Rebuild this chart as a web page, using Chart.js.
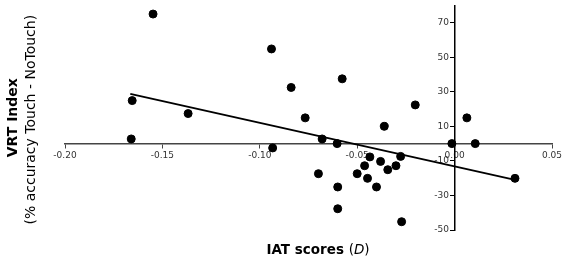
<!DOCTYPE html>
<html>
<head>
<meta charset="utf-8">
<script src="https://cdn.jsdelivr.net/npm/chart.js@4.4.1/dist/chart.umd.min.js"></script>
<style>
  html, body { margin: 0; padding: 0; background: #fff; }
  #wrap { width: 567px; height: 263px; }
</style>
</head>
<body>
<div id="wrap"><canvas id="c"></canvas></div>
<script>
// IAT D score vs VRT index, one point per participant
const iatScores = [-0.1548, -0.0940, -0.1655, -0.1368, -0.1660, -0.0934, -0.0839, -0.0577,
  -0.0767, -0.0202, -0.0361, 0.0063, -0.0680, -0.0603, -0.0014, 0.0106, -0.0435, -0.0277,
  -0.0462, -0.0380, -0.0301, -0.0343, -0.0699, -0.0500, -0.0447, -0.0401, -0.0600, -0.0600,
  -0.0272, 0.0310];
const vrtIndex = [75.0, 54.8, 24.9, 17.4, 2.7, -2.5, 32.5, 37.5,
  14.9, 22.4, 10.0, 14.9, 2.7, 0, 0, 0, -7.7, -7.4,
  -12.8, -10.3, -12.8, -15.1, -17.4, -17.4, -20.1, -25.1, -25.1, -37.7,
  -45.2, -20.1];

// regression line, endpoints at the extreme D values
const fitX = [-0.1665, 0.031];
const fitY = [28.8, -21.0];

const xTicks = [-0.20, -0.15, -0.10, -0.05, 0.00, 0.05];
const yTicks = [-50, -30, -10, 10, 30, 50, 70];

const FONT = '"DejaVu Sans", Verdana, sans-serif';

// axis titles sit outside the chart area, drawn by hand
const titlesPlugin = {
  id: 'titles',
  afterDraw(chart) {
    const { ctx, chartArea } = chart;
    const cy = (chartArea.top + chartArea.bottom) / 2;
    ctx.save();
    ctx.fillStyle = '#000';
    ctx.textAlign = 'center';
    ctx.textBaseline = 'middle';
    ctx.translate(13, cy);
    ctx.rotate(-Math.PI / 2);
    ctx.font = 'bold 14px ' + FONT;
    ctx.fillText('VRT Index', 0, 0);
    ctx.restore();

    ctx.save();
    ctx.fillStyle = '#000';
    ctx.textAlign = 'center';
    ctx.textBaseline = 'middle';
    ctx.translate(31, cy + 2);
    ctx.rotate(-Math.PI / 2);
    ctx.font = '14px ' + FONT;
    ctx.fillText('(% accuracy Touch - NoTouch)', 0, 0);
    ctx.restore();

    // x title: bold text + italic D
    ctx.save();
    ctx.fillStyle = '#000';
    ctx.textBaseline = 'middle';
    const sz = '13.5px ';
    const partA = 'IAT scores ', partB = '(', partC = 'D', partD = ')';
    ctx.font = 'bold ' + sz + FONT; const wA = ctx.measureText(partA).width;
    ctx.font = sz + FONT; const wB = ctx.measureText(partB).width;
    ctx.font = 'italic ' + sz + FONT; const wC = ctx.measureText(partC).width;
    ctx.font = sz + FONT; const wD = ctx.measureText(partD).width;
    let x = 318 - (wA + wB + wC + wD) / 2;
    const y = 250;
    ctx.textAlign = 'left';
    ctx.font = 'bold ' + sz + FONT; ctx.fillText(partA, x, y); x += wA;
    ctx.font = sz + FONT; ctx.fillText(partB, x, y); x += wB;
    ctx.font = 'italic ' + sz + FONT; ctx.fillText(partC, x, y); x += wC;
    ctx.font = sz + FONT; ctx.fillText(partD, x, y);
    ctx.restore();
  }
};

new Chart(document.getElementById('c'), {
  type: 'scatter',
  data: {
    datasets: [{
      label: 'Participants',
      data: iatScores.map((d, i) => ({ x: d, y: vrtIndex[i] })),
      backgroundColor: '#000',
      borderColor: '#000',
      pointRadius: 4,
      pointHoverRadius: 4
    }, {
      label: 'Fit',
      type: 'line',
      data: fitX.map((d, i) => ({ x: d, y: fitY[i] })),
      borderColor: '#000',
      borderWidth: 2,
      pointRadius: 0,
      fill: false
    }]
  },
  options: {
    responsive: true,
    maintainAspectRatio: false,
    animation: false,
    layout: { padding: { left: 65, right: 15, top: 5, bottom: 33 } },
    plugins: { legend: { display: false }, tooltip: { enabled: false } },
    scales: {
      x: {
        type: 'linear',
        position: { y: 0 },
        min: -0.20, max: 0.05,
        afterBuildTicks: s => { s.ticks = xTicks.map(v => ({ value: v })); },
        grid: { drawOnChartArea: false, drawTicks: true, tickLength: 4, tickColor: '#444', tickWidth: 1 },
        border: { display: true, color: '#444', width: 1.5 },
        ticks: {
          color: '#333', padding: 3, maxRotation: 0, autoSkip: false,
          font: { family: FONT, size: 9 },
          callback: v => Number(v).toFixed(2)
        }
      },
      y: {
        type: 'linear',
        position: { x: 0 },
        min: -50, max: 80,
        afterBuildTicks: s => { s.ticks = yTicks.map(v => ({ value: v })); },
        grid: { drawOnChartArea: false, drawTicks: true, tickLength: 4, tickColor: '#000', tickWidth: 1 },
        border: { display: true, color: '#000', width: 1.5 },
        ticks: {
          color: '#333', autoSkip: false, padding: 0,
          font: { family: FONT, size: 9 },
          // labels are right-aligned on the axis itself here, so pad them off it
          callback: v => v + '  '
        }
      }
    }
  },
  plugins: [titlesPlugin]
});
</script>
</body>
</html>
